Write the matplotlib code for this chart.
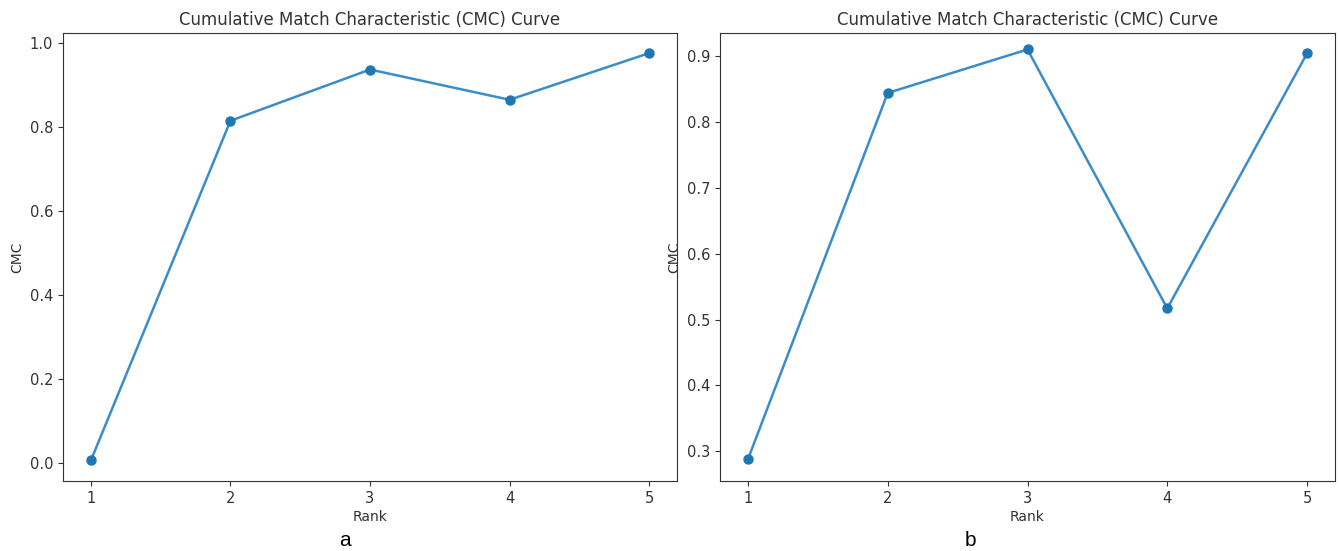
import matplotlib
matplotlib.use("Agg")
import matplotlib.pyplot as plt

ranks = [1, 2, 3, 4, 5]
cmc_a = [0.007, 0.816, 0.938, 0.866, 0.977]
cmc_b = [0.288, 0.844, 0.910, 0.517, 0.904]
title = "Cumulative Match Characteristic (CMC) Curve"
panel_labels = ["a", "b"]

fig = plt.figure(figsize=(13.39, 5.51), dpi=100)
W, H = 1339, 551
axes_px = [(63, 33, 677, 481), (720, 33, 1335, 481)]
axs = []
for (x0, y0, x1, y1) in axes_px:
    ax = fig.add_axes([x0 / W, 1 - y1 / H, (x1 - x0) / W, (y1 - y0) / H])
    axs.append(ax)

for ax, vals in zip(axs, [cmc_a, cmc_b]):
    ax.plot(ranks, vals, color='#3b8ccb', linewidth=1.8)
    ax.plot(ranks, vals, linestyle='none', marker='o', color='#1f77b4', markersize=6.5)
    ax.set_xticks(ranks)
    ax.set_title(title, fontsize=12, color='#333333', pad=6)
    ax.set_xlabel("Rank", fontsize=10, color='#333333', labelpad=3)
    ax.set_ylabel("CMC", fontsize=10, color='#333333', labelpad=4)
    ax.tick_params(labelsize=10.5, colors='#333333')
    for s in ax.spines.values():
        s.set_color('#333333')

axs[1].set_yticks([0.3, 0.4, 0.5, 0.6, 0.7, 0.8, 0.9])
axs[1].set_ylim(0.255, 0.935)
axs[0].set_ylim(-0.042, 1.025)

for lbl, xc in zip(panel_labels, [345, 970]):
    fig.text(xc / W, 1 - 540 / H, lbl, fontsize=15, family='Liberation Sans',
             ha='center', va='center', color='black')

fig.savefig("out.png", dpi=100)
